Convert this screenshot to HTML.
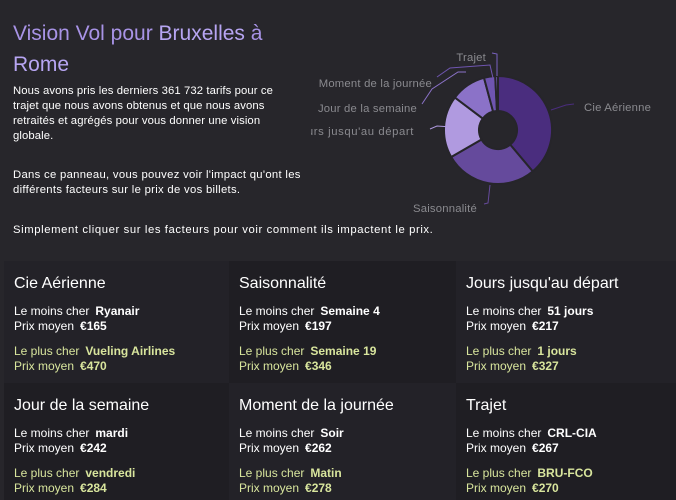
<!DOCTYPE html>
<html><head><meta charset="utf-8"><style>
*{margin:0;padding:0;box-sizing:border-box}
body{width:676px;height:500px;background:#27262b;font-family:"Liberation Sans","DejaVu Sans",sans-serif;color:#fff;position:relative;overflow:hidden}
.t{position:absolute;left:13px;top:18px;font-size:21px;line-height:31px;color:#a893e6;width:300px}
.t b{font-weight:normal;color:#b7a5f2}
.p{position:absolute;left:13px;font-size:11.3px;line-height:15px;white-space:nowrap;color:#fff;letter-spacing:0.1px}
.pan{position:absolute;width:227px;height:122px;padding:14px 0 0 10px}
.pan h3{font-weight:normal;font-size:16px;margin-bottom:11px;color:#fff}
.pan div{font-size:12px;line-height:15px}
.pan b{margin-left:6px}
.y{color:#d8e59d;margin-top:10px}
.d{background:#1f1e23}.l{background:#232228}
</style></head><body>
<div class="t">Vision Vol pour <b>Bruxelles</b> à<br><b>Rome</b></div>
<div class="p" style="top:84px">Nous avons pris les derniers 361 732 tarifs pour ce<br>trajet que nous avons obtenus et que nous avons<br>retraités et agrégés pour vous donner une vision<br>globale.</div>
<div class="p" style="top:168px;letter-spacing:0.3px">Dans ce panneau, vous pouvez voir l'impact qu'ont les<br>différents facteurs sur le prix de vos billets.</div>
<div class="p" style="top:223px;letter-spacing:0.6px">Simplement cliquer sur les facteurs pour voir comment ils impactent le prix.</div>
<svg style="position:absolute;left:311px;top:0" width="365" height="260" viewBox="311 0 365 260">
<g stroke="#26252a" stroke-width="2">
<path fill="#4a2d7e" d="M498,76 A54,54 0 0 1 532.7,171.4 L510.2,144.6 A19,19 0 0 0 498,111Z"/>
<path fill="#654a9c" d="M532.7,171.4 A54,54 0 0 1 451.2,157 L481.5,139.5 A19,19 0 0 0 510.2,144.6Z"/>
<path fill="#b09ae0" d="M451.2,157 A54,54 0 0 1 454.9,97.5 L482.8,118.6 A19,19 0 0 0 481.5,139.5Z"/>
<path fill="#8b72c8" d="M454.9,97.5 A54,54 0 0 1 484,77.8 L493.1,111.6 A19,19 0 0 0 482.8,118.6Z"/>
<path fill="#6f55b0" d="M484,77.8 A54,54 0 0 1 495.2,76.1 L497,111 A19,19 0 0 0 493.1,111.6Z"/>
<path fill="#7a62c0" d="M495.2,76.1 A54,54 0 0 1 498,76 L498,111 A19,19 0 0 0 497,111Z"/>
</g>
<g fill="none" stroke-width="1">
<path stroke="#4a2d7e" d="M551,110 L566,105 L574,104"/>
<path stroke="#654a9c" d="M490,185 L488,203 L484,204"/>
<path stroke="#b09ae0" d="M452,127 L437,126 L430,129"/>
<path stroke="#8b72c8" d="M466,72 L458,72 L432,89 L422,104"/>
<path stroke="#6f55b0" d="M493,78 L490,65 L450,68 L437,77"/>
<path stroke="#7a62c0" d="M497,76 L497,54 L492,53"/>
</g>
<g fill="#8a8a8f" font-size="11.3" letter-spacing="0.2">
<text x="584" y="111">Cie Aérienne</text>
<text x="413" y="212">Saisonnalité</text>
<text x="414" y="135" text-anchor="end" letter-spacing="0.6">Jours jusqu'au départ</text>
<text x="417" y="112" text-anchor="end">Jour de la semaine</text>
<text x="432" y="87" text-anchor="end">Moment de la journée</text>
<text x="486" y="61" text-anchor="end">Trajet</text>
</g>
</svg>
<div class="pan l" style="left:4px;top:261px"><h3>Cie Aérienne</h3><div>Le moins cher<b>Ryanair</b></div><div>Prix moyen<b>€165</b></div><div class="y">Le plus cher<b>Vueling Airlines</b></div><div class="y" style="margin-top:0">Prix moyen<b>€470</b></div></div>
<div class="pan d" style="left:229px;top:261px"><h3>Saisonnalité</h3><div>Le moins cher<b>Semaine 4</b></div><div>Prix moyen<b>€197</b></div><div class="y">Le plus cher<b>Semaine 19</b></div><div class="y" style="margin-top:0">Prix moyen<b>€346</b></div></div>
<div class="pan l" style="left:456px;top:261px;width:220px"><h3>Jours jusqu'au départ</h3><div>Le moins cher<b>51 jours</b></div><div>Prix moyen<b>€217</b></div><div class="y">Le plus cher<b>1 jours</b></div><div class="y" style="margin-top:0">Prix moyen<b>€327</b></div></div>
<div class="pan d" style="left:4px;top:383px;height:117px"><h3>Jour de la semaine</h3><div>Le moins cher<b>mardi</b></div><div>Prix moyen<b>€242</b></div><div class="y">Le plus cher<b>vendredi</b></div><div class="y" style="margin-top:0">Prix moyen<b>€284</b></div></div>
<div class="pan l" style="left:229px;top:383px;height:117px"><h3>Moment de la journée</h3><div>Le moins cher<b>Soir</b></div><div>Prix moyen<b>€262</b></div><div class="y">Le plus cher<b>Matin</b></div><div class="y" style="margin-top:0">Prix moyen<b>€278</b></div></div>
<div class="pan d" style="left:456px;top:383px;width:220px;height:117px"><h3>Trajet</h3><div>Le moins cher<b>CRL-CIA</b></div><div>Prix moyen<b>€267</b></div><div class="y">Le plus cher<b>BRU-FCO</b></div><div class="y" style="margin-top:0">Prix moyen<b>€270</b></div></div>
</body></html>
